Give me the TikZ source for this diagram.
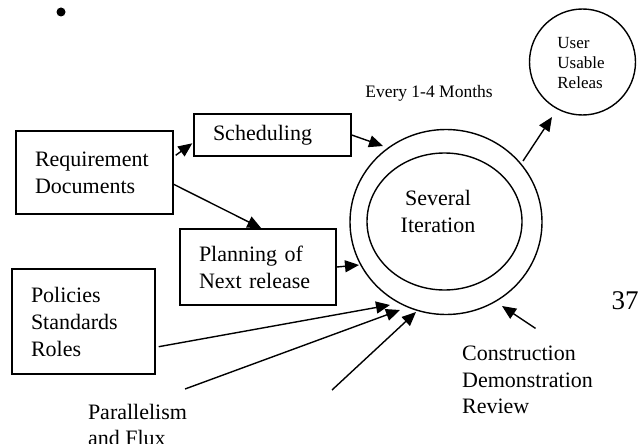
\documentclass[tikz,border=0pt]{standalone}
\usepackage{fontspec}
\setmainfont{Liberation Serif}
\usetikzlibrary{arrows.meta,calc,shapes.geometric}
\begin{document}
\begin{tikzpicture}[x=1pt,y=-1pt, line width=1.4pt,
  box/.style={draw, rectangle, inner xsep=19pt, inner ysep=0pt, align=left, font=\fontsize{22}{27}\selectfont},
  arr/.style={-{Triangle[length=14pt,width=12pt]}},
  lbl/.style={align=left, inner sep=0pt, font=\fontsize{22}{26.5}\selectfont}]
\useasboundingbox (0,0) rectangle (642,444);
\clip (0,0) rectangle (642,444);

\node[circle, fill, inner sep=0pt, minimum size=9pt] (bullet) at (61,12) {};

\node[box, text width=119pt, minimum height=83pt] (req) at (94.5,172.5) {Requirement\\Documents};
\node[box, text width=119pt, minimum height=42pt] (sched) at (272.5,135) {Scheduling};
\node[box, text width=118pt, minimum height=76pt] (plan) at (258,267) {Planning of\\Next release};
\node[box, text width=105pt, minimum height=105pt] (pol) at (83.5,321.5) {Policies\\Standards\\Roles};

\node[draw, ellipse, minimum width=192pt, minimum height=185pt, inner sep=0pt] (outer) at (446,222) {};
\node[draw, ellipse, minimum width=155pt, minimum height=137pt, inner sep=0pt] (inner) at (444.5,221.5) {};
\node[align=center, inner sep=0pt, font=\fontsize{22}{27}\selectfont] (iter) at (438,211) {Several\\Iteration};

\node[draw, circle, minimum size=106pt, inner sep=0pt] (user) at (582.5,62) {};
\node[align=left, inner sep=0pt, font=\fontsize{17}{20}\selectfont] (userlbl) at (581,63) {User\\Usable\\Releas};

\node[inner sep=0pt, font=\fontsize{17.5}{20}\selectfont] (every) at (429,93.5) {Every 1-4 Months};
\node[inner sep=0pt, font=\fontsize{27}{30}\selectfont] (pg) at (625,301) {37};

\node[lbl] (cons) at (527.5,380) {Construction\\Demonstration\\Review};
\node[lbl] (par) at (137.5,425) {Parallelism\\and Flux};

\coordinate (parStart) at (185,389);
\coordinate (lowStart) at (332,390);

\draw[arr] ($(req.north east)+(2,25)$) -- ($(sched.north west)+(-1,30)$);
\draw[arr] ($(req.north east)+(0,54)$) -- ($(plan.north west)+(82,0)$);
\draw[arr] (sched.east) -- ($(outer.center)+(-63,-76)$);
\draw[arr] (plan.east) -- ($(outer.center)+(-87,43)$);
\draw[arr] ($(outer.center)+(77,-61)$) -- ($(user.center)+(-30.5,55)$);
\draw[arr] ($(pol.south east)+(3,-28)$) -- ($(outer.center)+(-56,83)$);
\draw[arr] (parStart) -- ($(outer.center)+(-46,88)$);
\draw[arr] (lowStart) -- ($(outer.center)+(-30,90)$);
\draw[arr] ($(cons.north)+(8,-17)$) -- ($(outer.center)+(56,84)$);
\end{tikzpicture}
\end{document}
